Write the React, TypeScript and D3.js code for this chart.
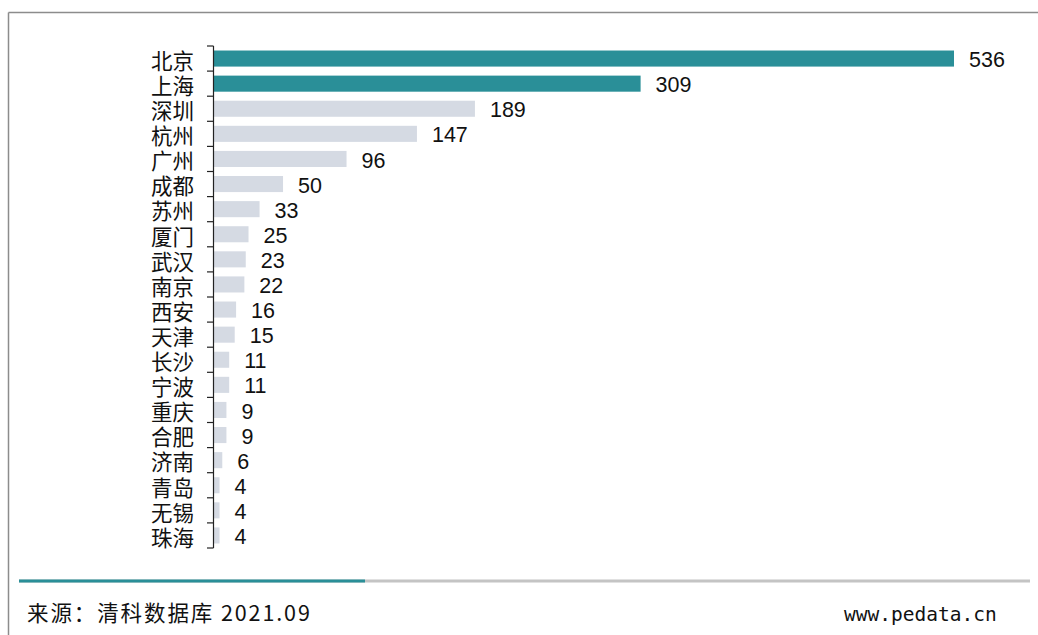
import React from "react";
import * as d3 from "d3";

const cities = ["北京","上海","深圳","杭州","广州","成都","苏州","厦门","武汉","南京","西安","天津","长沙","宁波","重庆","合肥","济南","青岛","无锡","珠海"];
const values = [536,309,189,147,96,50,33,25,23,22,16,15,11,11,9,9,6,4,4,4];
const highlighted = ["北京","上海"];
const sourceText = "来源：清科数据库 2021.09";
const siteText = "www.pedata.cn";

const W = 1038, H = 635;
const TEAL = "#2a8f98";
const GRAY = "#d5dae3";

export default function App() {
  const x0 = 214;
  const y = d3.scaleBand<string>().domain(cities).range([46, 548]).paddingInner(0.36).paddingOuter(0.18);
  const x = d3.scaleLinear().domain([0, 536]).range([x0, 954]);
  const boundaries = d3.range(cities.length + 1).map(i => 46 + i * (502 / cities.length));
  return (
    <svg width={W} height={H} style={{ position: "absolute", left: 0, top: 0 }}>
      <rect x={0} y={0} width={W} height={H} fill="#fff" />
      <line x1={8.5} y1={12.5} x2={W} y2={12.5} stroke="#8c8c8c" strokeWidth={1.5} />
      <line x1={8.5} y1={12.5} x2={8.5} y2={H} stroke="#8c8c8c" strokeWidth={1.5} />
      {cities.map((c, i) => (
        <g key={c}>
          <rect x={x(0)} y={y(c)!} width={x(values[i]) - x(0)} height={y.bandwidth()} fill={highlighted.includes(c) ? TEAL : GRAY} />
          <text x={x(values[i]) + 15} y={y(c)! + y.bandwidth() / 2} dy="0.4em" fontSize={21.5} fontFamily="'Liberation Sans', Arial, sans-serif" fill="#111">{values[i]}</text>
          <text x={194} y={y(c)! + y.bandwidth() / 2} dy="0.48em" textAnchor="end" fontSize={21.5} fontFamily="'Noto Sans CJK SC', sans-serif" fill="#111">{c}</text>
        </g>
      ))}
      <line x1={213.5} y1={46} x2={213.5} y2={548} stroke="#222" strokeWidth={1.2} />
      {boundaries.map((b, i) => (
        <line key={i} x1={207} x2={213.5} y1={b} y2={b} stroke="#222" strokeWidth={1.2} />
      ))}
      <line x1={19} x2={1030} y1={581} y2={581} stroke="#c4c4c4" strokeWidth={3} />
      <line x1={19} x2={365} y1={581} y2={581} stroke={TEAL} strokeWidth={3} />
      <text x={27} y={621} fontSize={21.5} letterSpacing={1.9} fontFamily="'Noto Sans CJK SC', sans-serif" fill="#111">{sourceText}</text>
      <text x={844} y={621} fontSize={19.5} fontFamily="'DejaVu Sans Mono', monospace" fill="#111">{siteText}</text>
    </svg>
  );
}
